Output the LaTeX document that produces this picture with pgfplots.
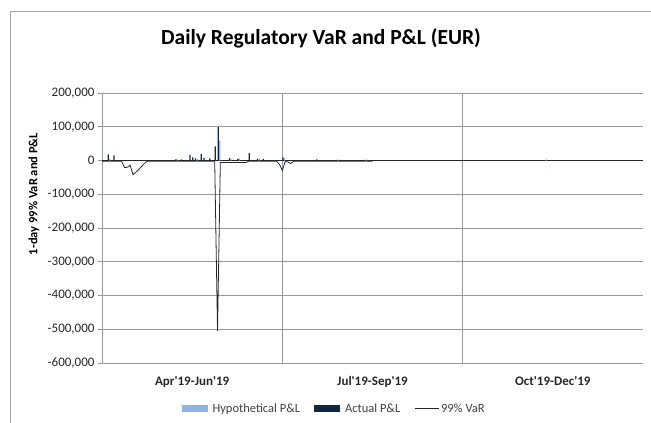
\documentclass[border=0pt]{standalone}
\usepackage{fontspec}
\setmainfont{Carlito}
\usepackage{pgfplots}
\pgfplotsset{compat=1.18}
\definecolor{hypo}{HTML}{8EB4E3}
\definecolor{actual}{HTML}{10253F}
\definecolor{gridc}{HTML}{9A9A9A}
\definecolor{framec}{HTML}{A6A6A6}
\begin{document}
\begin{tikzpicture}[x=1pt,y=1pt]
\useasboundingbox (0,0) rectangle (651,423);
\draw[framec] (10,0) -- (10,412) -- (651,412);
\node[font=\fontsize{21.5}{25}\selectfont\bfseries] at (321,385) {Daily Regulatory VaR and P\&L (EUR)};
\node[rotate=90,font=\fontsize{12.5}{14}\selectfont\bfseries] at (34,229) {1-day 99\% VaR and P\&L};
\begin{axis}[at={(102pt,60pt)}, anchor=south west, width=541pt, height=270pt, scale only axis,
  xmin=0, xmax=192, ymin=-600000, ymax=200000,
  ytick={-600000,-500000,-400000,-300000,-200000,-100000,0,100000,200000},
  scaled y ticks=false,
  yticklabel style={/pgf/number format/.cd, fixed, 1000 sep={,}},
  /pgf/number format/assume math mode=true,
  ymajorgrids, major grid style={gridc, line width=0.6pt},
  xtick={32,96,160},
  xticklabels={Apr\textquotesingle19-Jun\textquotesingle19, Jul\textquotesingle19-Sep\textquotesingle19, Oct\textquotesingle19-Dec\textquotesingle19},
  xtick style={draw=none},
  ytick style={gridc, line width=0.6pt},
  tick align=outside, major tick length=4pt,
  extra x ticks={64,128}, extra x tick labels={},
  extra x tick style={grid=major, major tick length=0pt},
  extra y ticks={0}, extra y tick labels={},
  extra y tick style={grid=major, major grid style={black!85, line width=0.9pt}, major tick length=0pt},
  axis lines*=left, axis line style={gridc, line width=0.6pt, -},
  ticklabel style={font=\fontsize{13}{15}\selectfont, text=black!85},
  xticklabel style={font=\fontsize{13}{15}\selectfont\bfseries, yshift=-6pt},
  legend columns=3,
  legend style={at={(0.429,-0.170)}, anchor=center, draw=none, fill=none,
    font=\fontsize{12.5}{14}\selectfont, text=black!75,
    /tikz/every even column/.append style={column sep=12pt}},
]
\addplot[ybar, fill=hypo, draw=none, bar width=0.45, bar shift=-0.22,
  legend image code/.code={\fill[hypo] (0pt,-3.5pt) rectangle (26pt,3.5pt); \path (0pt,0pt) -- (29pt,0pt);}]
  coordinates {(3,5000) (27,3000) (34,4000) (42,59000) (46,5000) (49,6000) (56,6000) (65,7000) (84,3000) (94,3500) (158,3000)};
\addlegendentry{Hypothetical P\&L}
\addplot[ybar, fill=actual, draw=none, bar width=0.45, bar shift=0.22,
  legend image code/.code={\fill[actual] (0pt,-3.5pt) rectangle (26pt,3.5pt); \path (0pt,0pt) -- (29pt,0pt);}]
  coordinates {(2,18000) (4,15000) (26,3000) (28,3000) (31,17000) (32,9000) (33,6000) (35,20000) (36,8000) (38,6000) (40,42000) (41,100000) (45,7000) (48,5000) (52,22000) (55,5000) (57,5000) (64,9000) (76,3000)};
\addlegendentry{Actual P\&L}
\addplot[black!85, line width=0.8pt, mark=none,
  legend image code/.code={\draw[black!80, line width=0.8pt] (0pt,0pt) -- (22pt,0pt); \path (0pt,0pt) -- (24pt,0pt);}]
  coordinates {(0,-2500) (7,-2500) (8,-21000) (9,-20000) (10,-14000) (11,-42000) (12,-35000) (13,-27000) (14,-18000) (15,-9000) (16,-2500) (40,-2500) (41,-505000) (42,-6000) (51,-6000) (52,-2500) (62,-2500) (63,-12000) (64,-30000) (65,-3000) (66,-4000) (67,-9000) (68,-2500) (96,-2500)};
\addlegendentry{99\% VaR}
\end{axis}
\end{tikzpicture}
\end{document}
